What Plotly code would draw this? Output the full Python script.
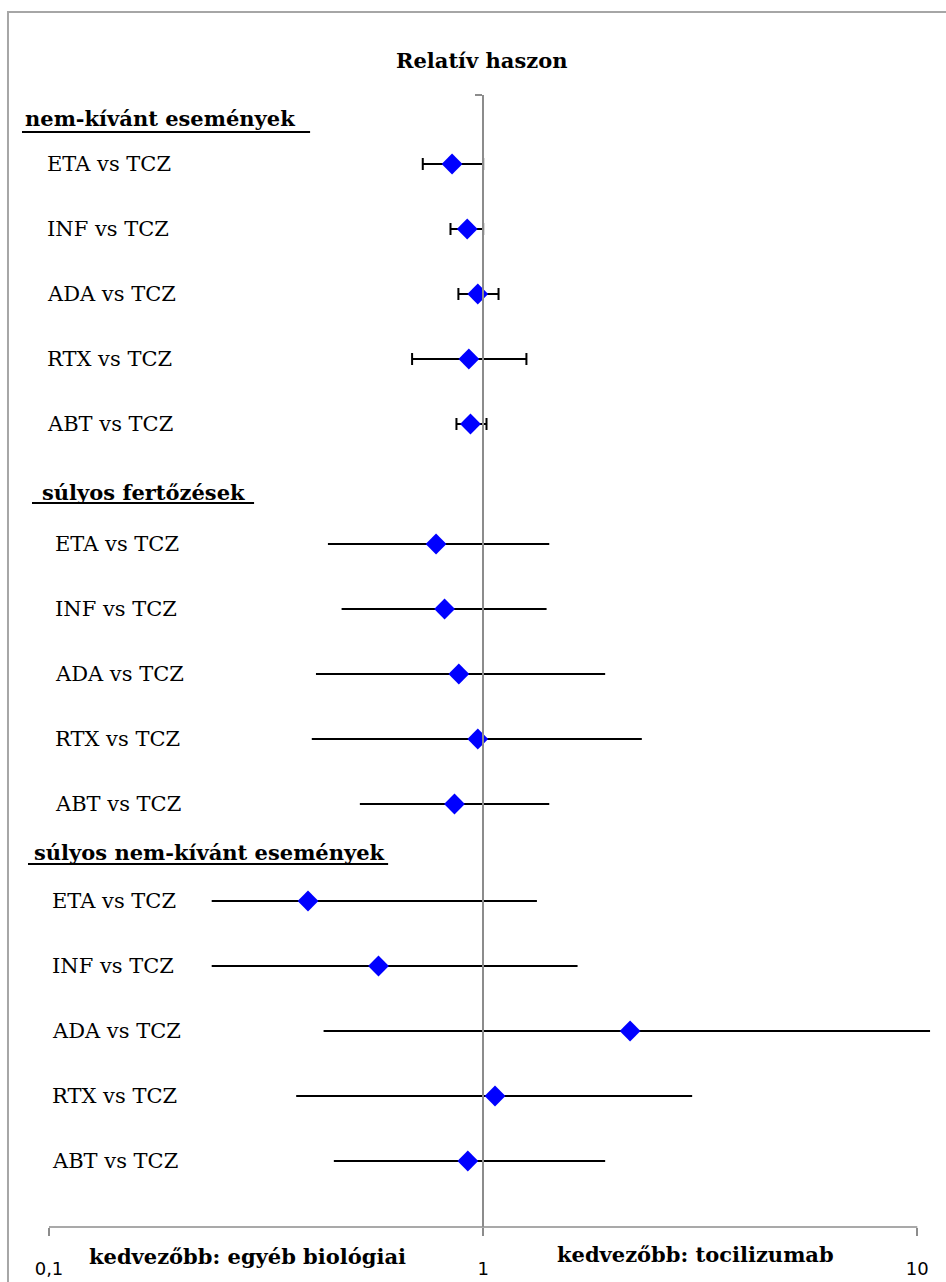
import plotly.graph_objects as go

# ---------------- data ----------------
comparisons = ["ETA vs TCZ", "INF vs TCZ", "ADA vs TCZ", "RTX vs TCZ", "ABT vs TCZ"]
sections = ["nem-kívánt események", "súlyos fertőzések", "súlyos nem-kívánt események"]

ae_est = [0.848, 0.919, 0.972, 0.927, 0.935]
ae_lo = [0.726, 0.841, 0.877, 0.686, 0.868]
ae_hi = [1.00, 1.00, 1.085, 1.258, 1.018]

si_est = [0.779, 0.815, 0.879, 0.972, 0.859]
si_lo = [0.439, 0.472, 0.412, 0.403, 0.520]
si_hi = [1.42, 1.40, 1.91, 2.32, 1.42]

sae_est = [0.395, 0.574, 2.18, 1.065, 0.922]
sae_lo = [0.237, 0.237, 0.429, 0.371, 0.453]
sae_hi = [1.33, 1.65, 10.7, 3.03, 1.91]

x_tickvals = [0.1, 1, 10]
x_ticktext = ["0,1", "1", "10"]
title_text = "Relatív haszon"
left_note = "kedvezőbb: egyéb biológiai"
right_note = "kedvezőbb: tocilizumab"

# ---------------- layout geometry (page pixels) ----------------
W, H = 946, 1282
x_left_px, x_right_px = 49, 938.7      # plot area edges
y_top_px, y_bottom_px = 95, 1227
L = x_left_px
R = W - x_right_px
T = y_top_px
B = H - y_bottom_px
plot_w = x_right_px - x_left_px
plot_h = y_bottom_px - y_top_px
XR = [-1, 1.05]

def px(p):
    return (p - x_left_px) / plot_w

def py(p):
    return (y_bottom_px - p) / plot_h

row_step = 65
section_first_row = [164, 544, 901]
label_left = [45, 53, 50]
header_text_left = [23, 40, 32]
header_y = [118, 492, 852]
underline = [(22, 310, 132), (32, 254, 503), (28, 388, 864)]
caps = [6, 0, 0]

serif = "DejaVu Serif"
gray = "#8c8c8c"

fig = go.Figure()

groups = [(ae_est, ae_lo, ae_hi), (si_est, si_lo, si_hi), (sae_est, sae_lo, sae_hi)]
annotations = []
shapes = []
for s, (est, lo, hi) in enumerate(groups):
    ys = [section_first_row[s] + i * row_step for i in range(len(est))]
    fig.add_trace(go.Scatter(
        x=est, y=ys, mode="markers",
        marker=dict(symbol="diamond", size=16, color="#0000FF", line=dict(width=0)),
        error_x=dict(type="data", symmetric=False,
                     array=[h - e for h, e in zip(hi, est)],
                     arrayminus=[e - l for e, l in zip(est, lo)],
                     color="black", thickness=2, width=caps[s]),
        showlegend=False, cliponaxis=False,
    ))
    for name, yv in zip(comparisons, ys):
        annotations.append(dict(text=name, x=px(label_left[s]), y=py(yv), xref="paper", yref="paper",
                                xanchor="left", yanchor="middle", showarrow=False,
                                font=dict(family=serif, size=21, color="black")))
    annotations.append(dict(text="<b>" + sections[s] + "</b>", x=px(header_text_left[s]), y=py(header_y[s]),
                            xref="paper", yref="paper", xanchor="left", yanchor="middle", showarrow=False,
                            font=dict(family=serif, size=21, color="black")))
    x0, x1, yu = underline[s]
    shapes.append(dict(type="line", xref="paper", yref="paper", x0=px(x0), x1=px(x1), y0=py(yu), y1=py(yu),
                       line=dict(color="black", width=2)))

annotations.append(dict(text="<b>" + title_text + "</b>", x=px(482), y=py(60), xref="paper", yref="paper",
                        xanchor="center", yanchor="middle", showarrow=False,
                        font=dict(family=serif, size=21, color="black")))
annotations.append(dict(text="<b>" + left_note + "</b>", x=px(247), y=py(1256), xref="paper", yref="paper",
                        xanchor="center", yanchor="middle", showarrow=False,
                        font=dict(family=serif, size=21, color="black")))
annotations.append(dict(text="<b>" + right_note + "</b>", x=px(695), y=py(1254), xref="paper", yref="paper",
                        xanchor="center", yanchor="middle", showarrow=False,
                        font=dict(family=serif, size=21, color="black")))

# x axis line from 0.1 to 10
shapes.append(dict(type="line", xref="x", yref="paper", x0=0.1, x1=10, y0=0, y1=0,
                   line=dict(color=gray, width=1.5)))
# outer frame
shapes.append(dict(type="rect", xref="paper", yref="paper", x0=px(8), x1=px(W + 20),
                   y0=py(H + 20), y1=py(12),
                   line=dict(color="#a6a6a6", width=2), fillcolor="rgba(0,0,0,0)", layer="below"))

zero_pos = (0 - XR[0]) / (XR[1] - XR[0])

fig.update_layout(
    width=W, height=H,
    margin=dict(l=L, r=R, t=T, b=B, autoexpand=False),
    paper_bgcolor="white", plot_bgcolor="white",
    xaxis=dict(type="log", range=XR, tickvals=x_tickvals, ticktext=x_ticktext,
               showline=False, showgrid=False, zeroline=False, automargin=False,
               ticks="outside", ticklen=8, tickwidth=1.5, tickcolor=gray,
               tickfont=dict(family="DejaVu Sans", size=18, color="black"),
               ticklabelstandoff=17),
    yaxis=dict(range=[y_bottom_px, y_top_px], showgrid=False, zeroline=False, automargin=False,
               showline=True, linecolor=gray, linewidth=1.5,
               anchor="free", position=zero_pos,
               tickvals=[y_top_px], ticks="outside", ticklen=7, tickcolor=gray, tickwidth=1.5,
               showticklabels=False),
    annotations=annotations,
    shapes=shapes,
)

page_fix = (
    "document.documentElement.style.margin='0';"
    "document.documentElement.style.overflow='hidden';"
    "document.body.style.margin='0';"
    "document.body.style.height='1282px';"
    "document.body.style.overflow='hidden';"
)
fig.write_html("out.html", config={"displayModeBar": False}, post_script=page_fix)
